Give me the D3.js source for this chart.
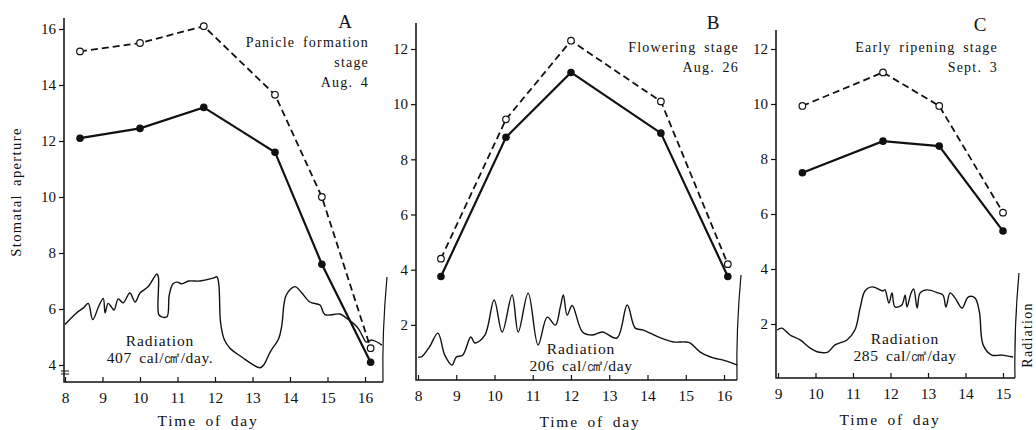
<!DOCTYPE html>
<html>
<head>
<meta charset="utf-8">
<script src="https://cdn.jsdelivr.net/npm/d3@7"></script>
<style>
  body { margin: 0; background: #fff; }
  svg { display: block; }
</style>
</head>
<body>
<svg id="chart" width="1036" height="430"></svg>
<script>
// --- data ---
const timesA = [8.4, 10.0, 11.7, 13.6, 14.85, 16.15];
const openA = [15.2, 15.5, 16.1, 13.65, 10.0, 4.6];
const closedA = [12.1, 12.45, 13.2, 11.6, 7.6, 4.1];

const timesB = [8.6, 10.3, 12.0, 14.35, 16.1];
const openB = [4.4, 9.45, 12.3, 10.1, 4.2];
const closedB = [3.75, 8.8, 11.15, 8.95, 3.75];

const timesC = [9.65, 11.8, 13.3, 15.0];
const openC = [9.93, 11.15, 9.93, 6.05];
const closedC = [7.5, 8.65, 8.47, 5.38];

// radiation traces, drawn in each panel's own y units
const radiationA = [
  [8.0, 5.45], [8.3, 5.85], [8.5, 6.05], [8.62, 6.2], [8.74, 5.62], [8.9, 6.1], [9.02, 6.38],
  [9.07, 5.86], [9.15, 6.2], [9.25, 6.05], [9.31, 5.96], [9.42, 6.36], [9.55, 6.22], [9.73, 6.57],
  [9.87, 6.25], [10.0, 6.57], [10.22, 6.8], [10.45, 7.25], [10.49, 7.15], [10.5, 5.8], [10.58, 5.72],
  [10.72, 5.72], [10.78, 6.5], [10.88, 6.9], [11.0, 6.96], [11.1, 6.9], [11.3, 7.0], [11.6, 7.0],
  [11.95, 7.1], [12.05, 7.15], [12.1, 6.9], [12.15, 5.5], [12.25, 4.9], [12.4, 4.6], [12.75, 4.25],
  [13.0, 4.02], [13.2, 3.9], [13.3, 4.0], [13.47, 4.46], [13.7, 4.95], [13.78, 5.4], [13.9, 6.5],
  [14.13, 6.8], [14.3, 6.6], [14.53, 6.25], [14.8, 6.14], [14.93, 5.8], [15.33, 5.82], [15.47, 5.71],
  [15.79, 5.36], [15.92, 5.07], [16.03, 4.82], [16.19, 4.89], [16.45, 4.71]
];
const radiationB = [
  [8.0, 0.83], [8.1, 0.85], [8.3, 1.2], [8.52, 1.7], [8.7, 0.9], [8.89, 0.54], [9.0, 0.83],
  [9.17, 0.9], [9.38, 1.56], [9.49, 1.34], [9.75, 1.63], [9.99, 2.9], [10.2, 1.74], [10.46, 3.08],
  [10.62, 1.74], [10.88, 3.15], [11.14, 1.27], [11.38, 2.28], [11.59, 1.99], [11.72, 2.64],
  [11.8, 3.08], [11.9, 2.35], [12.03, 2.7], [12.3, 1.74], [12.55, 1.63], [12.82, 1.74], [13.2, 1.52],
  [13.47, 2.72], [13.68, 1.88], [13.89, 1.81], [14.28, 1.56], [14.68, 1.38], [14.99, 1.38],
  [15.12, 1.34], [15.38, 1.01], [15.72, 0.8], [15.98, 0.72], [16.35, 0.54]
];
const radiationC = [
  [8.98, 1.78], [9.1, 1.85], [9.32, 1.6], [9.59, 1.42], [9.85, 1.13], [10.07, 0.98], [10.33, 0.98],
  [10.52, 1.24], [10.84, 1.42], [11.05, 1.78], [11.19, 2.58], [11.32, 3.2], [11.51, 3.35], [11.8, 3.2],
  [11.85, 3.25], [11.96, 2.76], [12.04, 3.13], [12.12, 2.62], [12.3, 2.69], [12.39, 3.05], [12.44, 2.62],
  [12.55, 3.13], [12.62, 3.27], [12.71, 2.58], [12.79, 3.13], [12.97, 3.24], [13.27, 3.13], [13.4, 3.05],
  [13.48, 2.62], [13.59, 3.13], [13.72, 2.95], [13.91, 2.58], [14.07, 2.98], [14.25, 2.95],
  [14.37, 2.44], [14.47, 1.24], [14.7, 0.87], [14.97, 0.87], [15.27, 0.8]
];

const xTicksA = [8, 9, 10, 11, 12, 13, 14, 15, 16];
const yTicksA = [4, 6, 8, 10, 12, 14, 16];
const xTicksB = [8, 9, 10, 11, 12, 13, 14, 15, 16];
const yTicksB = [2, 4, 6, 8, 10, 12];
const xTicksC = [9, 10, 11, 12, 13, 14, 15];
const yTicksC = [2, 4, 6, 8, 10, 12];

const panelLetters = ["A", "B", "C"];
const stageLines = [
  ["Panicle formation", "stage", "Aug. 4"],
  ["Flowering stage", "Aug. 26"],
  ["Early ripening stage", "Sept. 3"]
];
const radiationTotals = ["407 cal/㎠/day.", "206 cal/㎠/day", "285 cal/㎠/day"];

const FONT = '"Liberation Serif", "Times New Roman", serif';
const INK = "#111";

const svg = d3.select("#chart");

function label(sel, size, spacing, words) {
  return sel.style("font-family", FONT).style("font-size", size + "px")
    .style("letter-spacing", (spacing || 0) + "px").style("word-spacing", (words || 0) + "px")
    .attr("fill", INK);
}

// layout of the three panels (pixels)
const panels = [
  {
    times: timesA, open: openA, closed: closedA, radiation: radiationA,
    xTicks: xTicksA, yTicks: yTicksA,
    xDomain: [8, 16], xRange: [65, 365], yDomain: [4, 16], yRange: [365, 29],
    axisX: 64, axisTop: 18, axisBottom: 382, axisRight: 383, brk: true,
    letterPos: [345, 28], stageRight: 369, stageTop: 47,
    radPos: [160, 346], timePos: [208, 426]
  },
  {
    times: timesB, open: openB, closed: closedB, radiation: radiationB,
    xTicks: xTicksB, yTicks: yTicksB,
    xDomain: [8, 16], xRange: [418, 724], yDomain: [0, 12], yRange: [380, 49],
    axisX: 416, axisTop: 23, axisBottom: 380, axisRight: 737, brk: false,
    letterPos: [713, 29], stageRight: 739, stageTop: 52,
    radPos: [581, 354], timePos: [590, 427]
  },
  {
    times: timesC, open: openC, closed: closedC, radiation: radiationC,
    xTicks: xTicksC, yTicks: yTicksC,
    xDomain: [9, 15], xRange: [778, 1003], yDomain: [0, 12], yRange: [379, 49],
    axisX: 776, axisTop: 30, axisBottom: 378, axisRight: 1015, brk: false,
    letterPos: [980, 31], stageRight: 998, stageTop: 52,
    radPos: [905, 344], timePos: [890, 425]
  }
];

panels.forEach((p, i) => {
  const x = d3.scaleLinear().domain(p.xDomain).range(p.xRange);
  const y = d3.scaleLinear().domain(p.yDomain).range(p.yRange);
  const g = svg.append("g");

  // Y axis (ticks outward)
  const yAxis = g.append("g")
    .attr("transform", `translate(${p.axisX},0)`)
    .call(d3.axisLeft(y).tickValues(p.yTicks).tickFormat(d3.format("d"))
      .tickSize(5).tickPadding(3).tickSizeOuter(0));
  yAxis.select(".domain").remove();
  yAxis.selectAll("line").attr("stroke", INK).attr("stroke-width", 1.2);
  label(yAxis.selectAll("text"), 15);

  // X axis (ticks inward)
  const xAxis = g.append("g")
    .attr("transform", `translate(0,${p.axisBottom})`)
    .call(d3.axisBottom(x).tickValues(p.xTicks).tickFormat(d3.format("d"))
      .tickSize(-5).tickPadding(10).tickSizeOuter(0));
  xAxis.select(".domain").remove();
  xAxis.selectAll("line").attr("stroke", INK).attr("stroke-width", 1.2);
  label(xAxis.selectAll("text"), 15.5);

  // axis lines
  g.append("path")
    .attr("d", `M${p.axisX},${p.axisTop}V${p.axisBottom}H${p.axisRight}`)
    .attr("fill", "none").attr("stroke", INK).attr("stroke-width", 1.5);

  // radiation scale line at right (slightly bowed, as drawn)
  g.append("path")
    .attr("d", `M${p.axisRight + 4},${p.axisBottom - 105}Q${p.axisRight - 1},${p.axisBottom - 50} ${p.axisRight},${p.axisBottom}`)
    .attr("fill", "none").attr("stroke", INK).attr("stroke-width", 1.2);

  if (p.brk) {
    // axis break marks below the lowest tick
    [371, 374].forEach(yy => {
      g.append("line").attr("x1", p.axisX - 3).attr("x2", p.axisX + 5)
        .attr("y1", yy).attr("y2", yy).attr("stroke", INK).attr("stroke-width", 1);
    });
  }

  // radiation trace
  const radLine = d3.line().x(d => x(d[0])).y(d => y(d[1])).curve(d3.curveCatmullRom.alpha(0.5));
  g.append("path").datum(p.radiation)
    .attr("d", radLine)
    .attr("fill", "none").attr("stroke", INK).attr("stroke-width", 1.4);

  // stomatal aperture lines
  const openPts = p.times.map((t, k) => [t, p.open[k]]);
  const closedPts = p.times.map((t, k) => [t, p.closed[k]]);
  const line = d3.line().x(d => x(d[0])).y(d => y(d[1]));

  g.append("path").datum(openPts)
    .attr("d", line).attr("fill", "none").attr("stroke", INK)
    .attr("stroke-width", 1.8).attr("stroke-dasharray", "7,4");
  g.append("path").datum(closedPts)
    .attr("d", line).attr("fill", "none").attr("stroke", INK).attr("stroke-width", 2.2);

  g.selectAll(".open").data(openPts).enter().append("circle")
    .attr("cx", d => x(d[0])).attr("cy", d => y(d[1])).attr("r", 3.3)
    .attr("fill", "#fff").attr("stroke", INK).attr("stroke-width", 1.2);
  g.selectAll(".closed").data(closedPts).enter().append("circle")
    .attr("cx", d => x(d[0])).attr("cy", d => y(d[1])).attr("r", 3.8)
    .attr("fill", INK);

  // panel letter and stage text
  label(g.append("text").attr("x", p.letterPos[0]).attr("y", p.letterPos[1])
    .attr("text-anchor", "middle"), 19).text(panelLetters[i]);
  stageLines[i].forEach((s, k) => {
    label(g.append("text").attr("x", p.stageRight).attr("y", p.stageTop + k * 20)
      .attr("text-anchor", "end"), 14, 1.2, 3).text(s);
  });

  // radiation label
  label(g.append("text").attr("x", p.radPos[0]).attr("y", p.radPos[1])
    .attr("text-anchor", "middle"), 15.5, 0.9).text("Radiation");
  label(g.append("text").attr("x", p.radPos[0]).attr("y", p.radPos[1] + 17)
    .attr("text-anchor", "middle"), 15.5, 0.6, 3).text(radiationTotals[i]);

  // x axis title
  label(g.append("text").attr("x", p.timePos[0]).attr("y", p.timePos[1])
    .attr("text-anchor", "middle"), 15.5, 1.8, 3).text("Time of day");
});

// left and right axis titles
label(svg.append("text")
  .attr("transform", "translate(21,192) rotate(-90)")
  .attr("text-anchor", "middle"), 14.5, 1.4, 3).text("Stomatal aperture");
label(svg.append("text")
  .attr("transform", "translate(1032,335) rotate(-90)")
  .attr("text-anchor", "middle"), 14, 1.2).text("Radiation");
</script>
</body>
</html>
